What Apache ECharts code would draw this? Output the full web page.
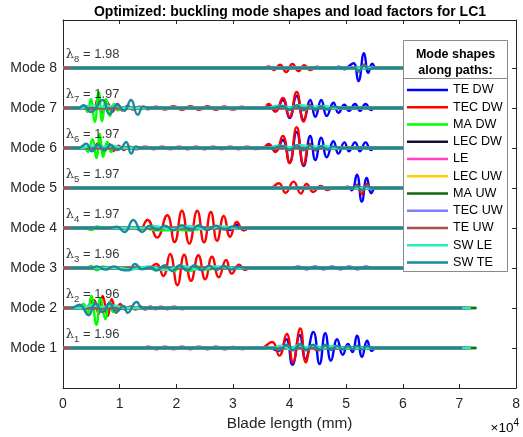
<!DOCTYPE html>
<html><head><meta charset="utf-8">
<script src="https://cdn.jsdelivr.net/npm/echarts@6/dist/echarts.min.js"></script>
<style>html,body{margin:0;padding:0;background:#fff}#c{width:523px;height:437px}</style>
</head><body><div id="c"></div><script>
// ---------------- data ----------------
const modeNames = ['Mode 1','Mode 2','Mode 3','Mode 4','Mode 5','Mode 6','Mode 7','Mode 8'];
const lambdas = [1.96, 1.96, 1.96, 1.97, 1.97, 1.97, 1.97, 1.98];
const xTickLabels = ['0','1','2','3','4','5','6','7','8'];
const paths = ['TE DW','TEC DW','MA DW','LEC DW','LE','LEC UW','MA UW','TEC UW','TE UW','SW LE','SW TE'];
// start / end of each path along the blade (mm)
const pathSpan = [[0,71000],[0,71000],[0,73000],[0,72000],[0,72000],[0,72000],[0,73000],[0,71000],[0,71000],[1200,72000],[1200,70500]];

// mode-shape displacements [x (mm), normalised displacement]
const m1_TEDW = [[36300,0],[38100,-0.07],[39400,0.22],[40500,-0.42],[41800,0.32],[42800,-0.27],[44200,0.40],[45300,-0.40],[46300,0.37],[47300,-0.32],[48400,0.22],[49400,-0.17],[50300,0.10],[51100,-0.10],[51900,0.31],[52800,-0.22],[53700,0.18],[54500,-0.07],[55300,0]];
const m1_TECDW = [[14000,0],[15000,0.03],[16500,-0.03],[18000,0.03],[19500,-0.03],[21000,0.03],[22500,-0.03],[24000,0.03],[25500,-0.03],[27000,0.03],[28500,-0.03],[30000,0.025],[31500,-0.025],[33000,0],[34900,0],[36900,0.15],[38200,-0.19],[39500,0.35],[40600,-0.35],[41900,0.49],[42900,-0.36],[43900,0.06],[44900,-0.06],[46000,0.03],[47000,0]];
const m1_SWLE = [[37000,0],[38500,0.06],[40000,-0.03],[41500,0.07],[43000,0.02],[44500,0.06],[46000,0],[47500,0.05],[49000,0]];
const m1_SWTE = [[37500,0],[38200,-0.05],[39500,0.08],[40600,-0.06],[41900,0.1],[42900,-0.06],[44200,0.08],[45300,-0.06],[46300,0.08],[47300,-0.05],[48400,0.06],[49400,-0.04],[50300,0.05],[51100,-0.03],[51900,0.06],[52800,-0.04],[53700,0.05],[54500,0]];

const m2_TECDW = [[3800,0],[5400,0.2],[6300,-0.15],[7000,0.3],[7900,-0.2],[8600,0.22],[9400,-0.12],[10100,0.1],[11000,-0.04],[11900,0.04],[12800,-0.04],[13700,0.04],[14500,-0.04],[15400,0.04],[16300,-0.03],[17300,0.03],[18400,-0.03],[19600,0.03],[20900,-0.025],[22300,0]];
const m2_MADW = [[2600,0],[3600,0.1],[4300,-0.15],[5000,0.3],[5900,-0.42],[6600,0.25],[7500,-0.28],[8200,0.15],[8900,-0.1],[9600,0.05],[10300,0]];
const m2_SWLE = [[3000,0],[5000,0.06],[7000,0.03],[9000,0.06],[11000,0]];
const m2_SWTE = [[1500,0],[2900,0.08],[4500,-0.18],[5700,0.12],[7000,-0.1],[8200,0.12],[9400,-0.1],[10700,0.05],[11400,-0.12],[13000,0.15],[14000,0],[15200,0]];

const m3_TEDW = [[40000,0],[41500,0.03],[43000,-0.03],[44500,0.03],[46000,-0.03],[47500,0.03],[49000,-0.03],[50500,0.03],[52000,-0.03],[53500,0.03],[55000,0]];
const m3_TECDW = [[15000,0],[16500,0.1],[17700,-0.2],[18900,0.35],[20200,-0.43],[21400,0.33],[22600,-0.32],[23900,0.32],[25100,-0.28],[26300,0.28],[27500,-0.23],[28800,0.2],[29800,-0.14],[31100,0.08],[32100,-0.05],[33200,0]];
const m3_MADW = [[4000,0],[5000,0.05],[6000,-0.06],[7000,0.04],[8000,0],[15000,0],[16500,-0.06],[18000,0.05],[19500,-0.08],[21000,0.04],[22500,-0.07],[24000,0.03],[25500,-0.04],[27000,0]];
const m3_SWLE = [[10000,0],[12000,-0.04],[15000,0.04],[18000,-0.05],[21000,0.05],[24000,-0.04],[27000,0.04],[30000,0]];
const m3_SWTE = [[5000,0],[6000,0.04],[7500,-0.04],[9000,0.04],[10500,-0.05],[11600,-0.06],[12700,0.1],[14000,-0.03],[15500,0.02],[16500,-0.06],[18000,0.07],[19300,-0.08],[20600,0.07],[21900,-0.07],[23200,0.07],[24500,-0.06],[25800,0.06],[27100,-0.05],[28400,0.05],[29700,-0.04],[31000,0.03],[32500,0]];

const m4_TEDW = [[28000,0],[29500,-0.05],[30700,0.08],[31900,-0.05],[33000,0]];
const m4_TECDW = [[12500,0],[13500,-0.05],[14900,0.2],[16600,-0.24],[18400,0.32],[19700,-0.35],[21000,0.43],[22300,-0.39],[23700,0.43],[24900,-0.36],[26100,0.4],[27200,-0.32],[28400,0.3],[29500,-0.22],[30700,0.15],[31900,-0.06],[33000,0]];
const m4_MADW = [[3500,0],[5000,-0.05],[6000,0.04],[7000,0],[14000,0],[16000,-0.05],[18000,-0.06],[20000,-0.04],[22000,-0.06],[24000,-0.03],[26000,0]];
const m4_SWLE = [[14000,0],[16000,0.05],[19000,-0.03],[22000,0.05],[25000,-0.03],[28000,0.04],[31000,0]];
const m4_SWTE = [[8000,0],[9500,0.03],[10900,-0.1],[12400,0.2],[14000,-0.1],[15300,0.06],[16600,-0.05],[18000,0.06],[19500,-0.06],[21000,0.07],[22500,-0.06],[24000,0.07],[25500,-0.05],[27000,0.06],[28500,-0.04],[30000,0.04],[31500,0]];

const m5_TEDW = [[49500,0],[50300,0.03],[51000,-0.06],[51880,0.33],[52760,-0.34],[53640,0.25],[54430,-0.13],[55200,0]];
const m5_TECDW = [[36500,0],[38100,0.12],[39300,-0.12],[40700,0.16],[42000,-0.14],[43000,0.1],[44200,-0.1],[45500,0.05],[46700,-0.05],[47800,0],[51200,0],[51900,0.08],[52760,-0.15],[53640,0.1],[54500,0]];
const m5_SWTE = [[51000,0],[51900,0.05],[52760,-0.06],[53640,0.05],[54500,0]];

const m6_TEDW = [[35500,0],[36300,0.05],[37500,-0.08],[38800,0.2],[40000,-0.36],[41250,0.4],[42500,-0.45],[43650,0.3],[44550,-0.3],[45600,0.26],[46570,-0.23],[47750,0.17],[48630,-0.14],[49680,0.14],[50500,-0.08],[51560,0.14],[52440,-0.08],[53430,0.14],[54380,-0.05],[55000,0]];
const m6_TECDW = [[4500,0],[5500,0.05],[6300,0.12],[7200,-0.1],[8100,0.1],[8900,-0.08],[9800,0.06],[10700,-0.05],[11600,0.04],[13000,-0.03],[14500,0.03],[16000,-0.03],[17500,0.03],[19000,-0.03],[20500,0.03],[22000,-0.03],[23500,0.03],[25000,-0.03],[26500,0.03],[28000,-0.03],[29500,0.03],[31000,-0.03],[32500,0.03],[34000,-0.025],[35300,0],[36300,0.1],[37500,-0.1],[38800,0.3],[40000,-0.38],[41250,0.52],[42500,-0.42],[43600,0.1],[44600,-0.06],[45600,0.04],[46600,0]];
const m6_MADW = [[2500,0],[3600,0.05],[4400,-0.1],[5200,0.22],[5900,-0.25],[6500,0.35],[7100,-0.22],[7800,0.15],[8500,-0.1],[9200,0.05],[10000,0]];
const m6_SWLE = [[3000,0],[5000,0.05],[7000,0.04],[9000,0.05],[10500,0],[36000,0],[38000,0.06],[40000,0.02],[42000,0.07],[44000,0.03],[46000,0.05],[48000,0]];
const m6_SWTE = [[2800,0],[4100,0.11],[5100,-0.08],[6200,0.08],[7300,-0.06],[8400,0.08],[9500,-0.05],[10300,0],[11150,0.15],[12050,-0.14],[12900,0.04],[13500,0],[37000,0],[38800,0.05],[40000,-0.06],[41250,0.07],[42500,-0.06],[43650,0.06],[44550,-0.05],[45600,0.05],[46570,-0.04],[47750,0.04],[49000,0]];

const m7_TEDW = [[35500,0],[36300,0.05],[37500,-0.08],[38800,0.2],[40000,-0.25],[41250,0.3],[42500,-0.3],[43650,0.2],[44550,-0.22],[45600,0.2],[46570,-0.2],[47750,0.13],[48630,-0.12],[49680,0.08],[50500,-0.07],[51560,0.1],[52440,-0.07],[53430,0.1],[54380,-0.05],[55000,0]];
const m7_TECDW = [[4500,0],[5400,-0.06],[6100,0.22],[6900,-0.12],[7800,0.14],[8700,-0.1],[9600,0.1],[10500,-0.06],[11400,0.06],[12300,-0.04],[13500,0.03],[15000,-0.03],[16500,0.035],[18000,-0.04],[19500,0.045],[21000,-0.045],[22500,0.045],[24000,-0.045],[25500,0.045],[27000,-0.045],[28500,0.04],[30000,-0.04],[31500,0.03],[33000,0],[35500,0],[36300,0.1],[37500,-0.09],[38800,0.25],[40000,-0.22],[41250,0.4],[42500,-0.34],[43600,0.08],[44600,-0.05],[45600,0.03],[46600,0]];
const m7_MADW = [[2500,0],[3700,0.06],[4300,-0.1],[4900,0.22],[5600,-0.35],[6300,0.4],[6900,-0.33],[7600,0.22],[8300,-0.2],[9000,0.1],[9700,-0.06],[10400,0]];
const m7_SWLE = [[3000,0],[5000,0.06],[7000,0.03],[9000,0.06],[11000,0],[36000,0],[38000,0.06],[40000,0.02],[42000,0.07],[44000,0.03],[46000,0.05],[48000,0]];
const m7_SWTE = [[2800,0],[3600,0.07],[4900,-0.1],[7000,0.2],[8200,-0.15],[9600,0.08],[10800,-0.07],[12000,0.2],[13200,-0.17],[14200,0.04],[15000,0],[37000,0],[38800,0.05],[40000,-0.05],[41250,0.07],[42500,-0.06],[43650,0.05],[44550,-0.05],[45600,0.05],[46570,-0.04],[47750,0.04],[49000,0]];

const m8_TEDW = [[48000,0],[48600,0.03],[49700,-0.03],[50400,0.04],[51300,0.12],[52150,-0.33],[53150,0.37],[53900,-0.12],[54600,0.11],[55300,0]];
const m8_TECDW = [[35500,0],[36300,0.04],[37300,-0.05],[38300,0.08],[39400,-0.1],[40500,0.1],[41600,-0.08],[42600,0.07],[43700,-0.05],[44800,0.03],[46000,0],[51500,0],[52150,-0.08],[53150,0.08],[54000,0]];
const m8_SWTE = [[51500,0],[52150,-0.1],[53150,0.07],[54000,-0.03],[55000,0]];

const modeWaves = [
  {'TE DW': m1_TEDW, 'TEC DW': m1_TECDW, 'SW LE': m1_SWLE, 'SW TE': m1_SWTE},
  {'TEC DW': m2_TECDW, 'MA DW': m2_MADW, 'SW LE': m2_SWLE, 'SW TE': m2_SWTE},
  {'TE DW': m3_TEDW, 'TEC DW': m3_TECDW, 'MA DW': m3_MADW, 'SW LE': m3_SWLE, 'SW TE': m3_SWTE},
  {'TE DW': m4_TEDW, 'TEC DW': m4_TECDW, 'MA DW': m4_MADW, 'SW LE': m4_SWLE, 'SW TE': m4_SWTE},
  {'TE DW': m5_TEDW, 'TEC DW': m5_TECDW, 'SW TE': m5_SWTE},
  {'TE DW': m6_TEDW, 'TEC DW': m6_TECDW, 'MA DW': m6_MADW, 'SW LE': m6_SWLE, 'SW TE': m6_SWTE},
  {'TE DW': m7_TEDW, 'TEC DW': m7_TECDW, 'MA DW': m7_MADW, 'SW LE': m7_SWLE, 'SW TE': m7_SWTE},
  {'TE DW': m8_TEDW, 'TEC DW': m8_TECDW, 'SW TE': m8_SWTE}
];

// ---------------- style ----------------
const pathColors = ['#0000FF','#FF0000','#00FF00','#101030','#FF40C0','#FFD000','#126612','#8080FF','#A5524A','#20F2C4','#1A8A9A'];
const FONT = '"Liberation Sans", Arial, Helvetica, sans-serif';
const AX = '#262626';

const chart = echarts.init(document.getElementById('c'), null, {renderer: 'canvas'});
const series = [];
modeWaves.forEach((w, mi) => {
  const level = mi + 1;
  paths.forEach((p, pi) => {
    const span = pathSpan[pi];
    const wave = w[p] || [];
    const pts = [[span[0], 0]].concat(wave, [[span[1], 0]]);
    series.push({
      type: 'line', name: p, smooth: 0.5, symbol: 'none', showSymbol: false,
      animation: false, silent: true, clip: true,
      data: pts.map(d => [d[0], level + d[1]]),
      lineStyle: {color: pathColors[pi], width: 2.4},
      itemStyle: {color: pathColors[pi]}
    });
  });
});
series.push({
  type: 'scatter', name: 'lambda', symbolSize: 0, animation: false, silent: true, z: 5,
  data: lambdas.map((v, i) => [500, i + 1 + 0.33]),
  label: {
    show: true, position: 'right', distance: 0,
    formatter: p => '{l|λ}{s|' + (p.dataIndex + 1) + '}{t| = ' + lambdas[p.dataIndex].toFixed(2) + '}',
    rich: {
      l: {fontFamily: '"DejaVu Serif", serif', fontSize: 13, color: '#000', lineHeight: 16},
      s: {fontFamily: FONT, fontSize: 9.5, color: '#000', lineHeight: 16, padding: [9, 0, 0, 0]},
      t: {fontFamily: FONT, fontSize: 13, color: '#000', lineHeight: 16}
    }
  }
});

const option = {
  backgroundColor: '#fff',
  animation: false,
  grid: {left: 63, right: 4, top: 20, bottom: 49, containLabel: false},
  xAxis: [{
    type: 'value', min: 0, max: 80000, interval: 10000,
    name: 'Blade length (mm)', nameLocation: 'middle', nameGap: 28,
    nameTextStyle: {fontFamily: FONT, fontSize: 15.4, color: AX},
    axisLine: {onZero: false, lineStyle: {color: AX, width: 1}},
    axisTick: {inside: true, length: 4, lineStyle: {color: AX}},
    axisLabel: {fontFamily: FONT, fontSize: 14, color: AX, margin: 9, formatter: v => xTickLabels[Math.round(v / 10000)]},
    splitLine: {show: false}
  }, {
    type: 'value', min: 0, max: 80000, interval: 10000, position: 'top',
    axisLine: {show: true, onZero: false, lineStyle: {color: AX, width: 1}},
    axisTick: {show: true, inside: true, length: 4, lineStyle: {color: AX}},
    axisLabel: {show: false}, splitLine: {show: false}
  }],
  yAxis: [{
    type: 'value', min: 0, max: 9.2,
    axisLine: {show: true, onZero: false, lineStyle: {color: AX, width: 1}},
    axisTick: {show: true, inside: true, length: 4, lineStyle: {color: AX}, customValues: [1,2,3,4,5,6,7,8]},
    axisLabel: {fontFamily: FONT, fontSize: 14, color: AX, margin: 6, customValues: [1,2,3,4,5,6,7,8], formatter: v => modeNames[Math.round(v) - 1]},
    splitLine: {show: false}
  }, {
    type: 'value', min: 0, max: 9.2, position: 'right',
    axisLine: {show: true, onZero: false, lineStyle: {color: AX, width: 1}},
    axisTick: {show: true, inside: true, length: 4, lineStyle: {color: AX}, customValues: [1,2,3,4,5,6,7,8]},
    axisLabel: {show: false}, splitLine: {show: false}
  }],
  legend: {
    data: paths, orient: 'vertical', left: 407, top: 83, z: 30, padding: 0,
    icon: 'rect', itemWidth: 41, itemHeight: 2.5, itemGap: 3.25,
    textStyle: {fontFamily: FONT, fontSize: 12.6, color: '#000', lineHeight: 14},
    selectedMode: false
  },
  graphic: [
    {type: 'rect', z: 20, shape: {x: 403.5, y: 40.5, width: 104, height: 231}, style: {fill: '#fff', stroke: '#8a8a8a', lineWidth: 1}},
    {type: 'line', z: 21, shape: {x1: 403.5, y1: 78.5, x2: 507.5, y2: 78.5}, style: {stroke: '#8a8a8a', lineWidth: 1}},
    {type: 'text', z: 21, x: 455.5, y: 55, style: {text: 'Mode shapes', fill: '#000', font: 'bold 12.5px ' + FONT, align: 'center', verticalAlign: 'middle'}},
    {type: 'text', z: 21, x: 455.5, y: 71, style: {text: 'along paths:', fill: '#000', font: 'bold 12.5px ' + FONT, align: 'center', verticalAlign: 'middle'}},
    {type: 'text', z: 21, x: 290, y: 12, style: {text: 'Optimized: buckling mode shapes and load factors for LC1', fill: '#000', font: 'bold 14px ' + FONT, align: 'center', verticalAlign: 'middle'}},
    {type: 'text', z: 21, x: 519, y: 428, style: {text: '{a|×10}{b|4}', rich: {a: {fontFamily: FONT, fontSize: 13.5, color: AX}, b: {fontFamily: FONT, fontSize: 10, color: AX, padding: [0, 0, 9, 0]}}, align: 'right', verticalAlign: 'middle'}}
  ],
  series: series
};
chart.setOption(option);
</script></body></html>
